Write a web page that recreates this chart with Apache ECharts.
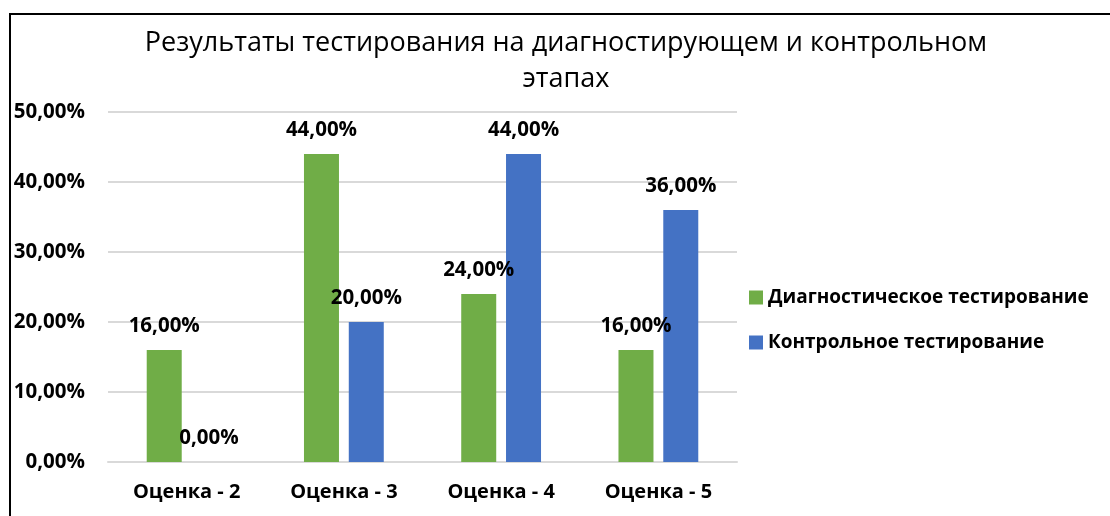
<!DOCTYPE html>
<html>
<head>
<meta charset="utf-8">
<script src="https://cdn.jsdelivr.net/npm/echarts@6/dist/echarts.min.js"></script>
<style>
  html, body { margin: 0; padding: 0; background: #fff; }
  #chart { width: 1110px; height: 516px; }
</style>
</head>
<body>
<div id="chart"></div>
<script>
// данные с картинки, в процентах
const categories = ["Оценка - 2", "Оценка - 3", "Оценка - 4", "Оценка - 5"];
const seriesNames = ["Диагностическое тестирование", "Контрольное тестирование"];
const diagValues = [16, 44, 24, 16];
const controlValues = [0, 20, 44, 36];
const titleText = "Результаты тестирования на диагностирующем и контрольном\nэтапах";

const FONT = "Open Sans";
const fmt = v => Number(v).toFixed(2).replace(".", ",") + "%";

let chart = echarts.init(document.getElementById("chart"));

let labelStyle = {
  show: true,
  position: "top",
  distance: 13,
  color: "#000",
  fontFamily: FONT,
  fontWeight: "bold",
  fontSize: 20.5,
  formatter: p => fmt(p.value),
};

let option = {
  animation: false,
  backgroundColor: "#fff",
  title: {
    text: titleText,
    left: 561,
    textAlign: "center",
    top: 20,
    textStyle: {
      fontFamily: FONT,
      fontWeight: "normal",
      fontSize: 27,
      lineHeight: 36,
      color: "#000",
    },
  },
  legend: {
    orient: "vertical",
    left: 749,
    top: 287,
    padding: 0,
    itemWidth: 14,
    itemHeight: 14,
    itemGap: 24,
    icon: "rect",
    textStyle: {
      fontFamily: FONT,
      fontWeight: "bold",
      fontSize: 19,
      lineHeight: 21,
      color: "#000",
    },
    data: seriesNames,
  },
  grid: {
    left: 108,
    right: 373,
    top: 112,
    bottom: 54,
    containLabel: false,
  },
  xAxis: {
    type: "category",
    data: categories,
    axisLine: { show: true, lineStyle: { color: "#D9D9D9", width: 2 } },
    axisTick: { show: false },
    axisLabel: {
      margin: 20,
      color: "#000",
      fontFamily: FONT,
      fontWeight: "bold",
      fontSize: 20,
    },
  },
  yAxis: {
    type: "value",
    min: 0,
    max: 50,
    interval: 10,
    axisLine: { show: false },
    axisTick: { show: false },
    splitLine: { lineStyle: { color: "#D9D9D9", width: 2 } },
    axisLabel: {
      margin: 23,
      color: "#000",
      fontFamily: FONT,
      fontWeight: "bold",
      fontSize: 20.5,
      formatter: v => fmt(v),
    },
  },
  graphic: [
    {
      type: "polyline",
      shape: { points: [[10, 516], [10, 14], [1110, 14]] },
      style: { stroke: "#000", lineWidth: 2, fill: null },
      silent: true,
    },
  ],
  series: [
    {
      name: seriesNames[0],
      type: "bar",
      data: diagValues,
      barWidth: 35,
      barGap: "28%",
      itemStyle: { color: "#70AD47" },
      label: labelStyle,
    },
    {
      name: seriesNames[1],
      type: "bar",
      data: controlValues,
      barWidth: 35,
      itemStyle: { color: "#4472C4" },
      label: labelStyle,
    },
  ],
};

chart.setOption(option);
</script>
</body>
</html>
